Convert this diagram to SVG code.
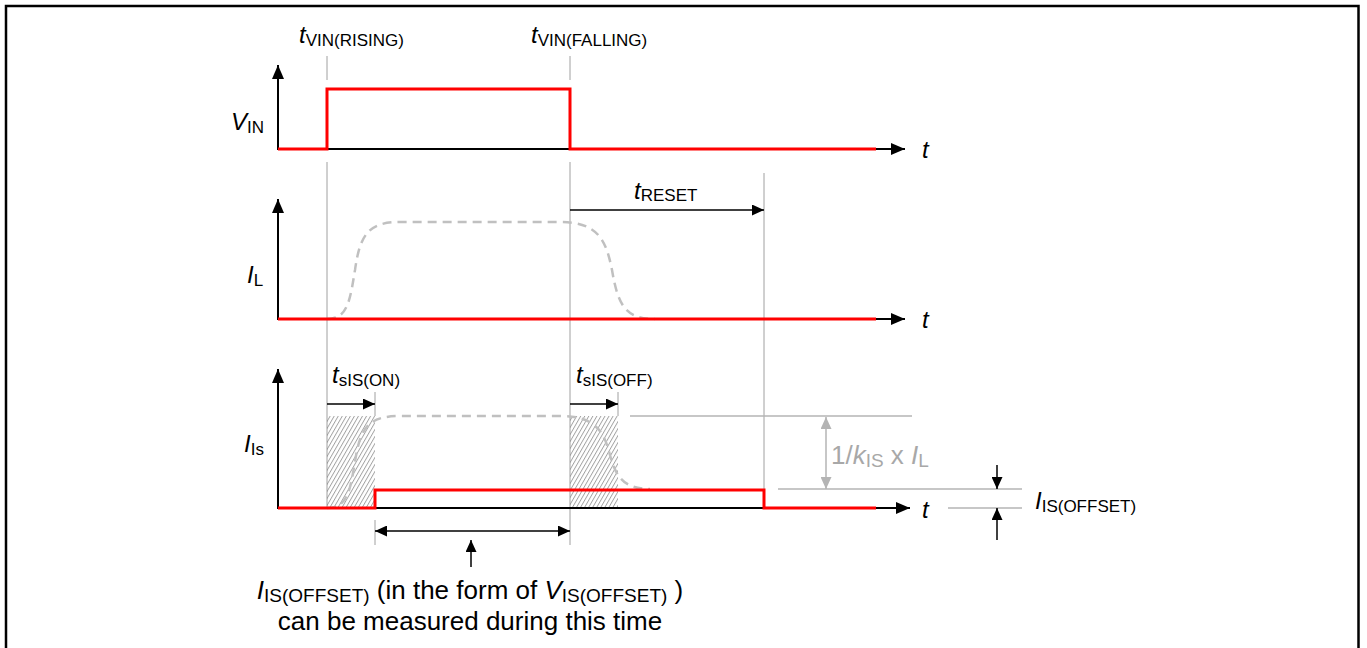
<svg xmlns="http://www.w3.org/2000/svg" width="1367" height="648" viewBox="0 0 1367 648">
<style>
text{font-family:"Liberation Sans",Arial,sans-serif;font-size:24px;fill:#000}
.it{font-style:italic}
.sub{font-size:17px}
.big{font-size:26px}
.bsub{font-size:19px}
.gtxt{fill:#a8a8a8}
.ax{stroke:#000;stroke-width:2;fill:none}
.red{stroke:#ff0000;stroke-width:3;fill:none}
.mk{stroke:#a0a0a0;stroke-width:1;fill:none}
.gl{stroke:#b4b4b4;stroke-width:1.5;fill:none}
.dash{stroke:#c0c0c0;stroke-width:2.5;fill:none;stroke-dasharray:9 6}
.dim{stroke:#000;stroke-width:1.5;fill:none}
</style>
<defs>
<marker id="axh" markerUnits="userSpaceOnUse" markerWidth="14" markerHeight="12" refX="14" refY="6" orient="auto"><path d="M0,0 L14,6 L0,12 z" fill="#000"/></marker>
<marker id="ah" markerUnits="userSpaceOnUse" markerWidth="12" markerHeight="11" refX="12" refY="5.5" orient="auto-start-reverse"><path d="M0,0 L12,5.5 L0,11 z" fill="#000"/></marker>
<marker id="gah" markerUnits="userSpaceOnUse" markerWidth="12" markerHeight="11" refX="12" refY="5.5" orient="auto-start-reverse"><path d="M0,0 L12,5.5 L0,11 z" fill="#b4b4b4"/></marker>
<pattern id="hatch" patternUnits="userSpaceOnUse" width="3.5" height="10" patternTransform="rotate(30)"><line x1="0.5" y1="0" x2="0.5" y2="10" stroke="#8a8a8a" stroke-width="0.8"/></pattern>
</defs>
<rect id="frame" x="6" y="6" width="1352.5" height="700" fill="none" stroke="#000" stroke-width="2.5"/>

<g id="markers">
<line class="mk" x1="327" y1="56" x2="327" y2="80"/>
<line class="mk" x1="570" y1="56" x2="570" y2="80"/>
<line class="mk" x1="327" y1="162" x2="327" y2="508"/>
<line class="mk" x1="570" y1="162" x2="570" y2="545"/>
<line class="mk" x1="764" y1="173" x2="764" y2="489"/>
<line class="mk" x1="375" y1="392" x2="375" y2="416"/>
<line class="mk" x1="618" y1="392" x2="618" y2="416"/>
<line class="mk" x1="375" y1="520" x2="375" y2="545"/>
</g>

<g id="hatched">
<rect x="327" y="416" width="48" height="92" fill="url(#hatch)"/>
<rect x="570" y="416" width="48" height="92" fill="url(#hatch)"/>
</g>

<g id="vin-plot">
<line class="ax" x1="278" y1="150" x2="278" y2="65" marker-end="url(#axh)"/>
<line class="ax" x1="278" y1="149" x2="905" y2="149" marker-end="url(#axh)"/>
<polyline class="red" points="278,149 327,149 327,89 570,89 570,149 876,149"/>
<text x="231" y="130"><tspan class="it">V</tspan><tspan class="sub" dy="3">IN</tspan></text>
<text x="922" y="158" class="it">t</text>
</g>

<g id="il-plot">
<path class="dash" d="M327,319 C348,319 350,300 355,270 C360,235 368,222 400,222 L560,222 C598,222 606,240 612,270 C618,305 625,319 655,319"/>
<line class="ax" x1="278" y1="320" x2="278" y2="199" marker-end="url(#axh)"/>
<line class="ax" x1="278" y1="319" x2="905" y2="319" marker-end="url(#axh)"/>
<line class="red" x1="278" y1="319" x2="876" y2="319"/>
<text x="247" y="283"><tspan class="it">I</tspan><tspan class="sub" dy="3">L</tspan></text>
<text x="922" y="328" class="it">t</text>
</g>

<g id="is-plot">
<path class="dash" d="M327,508 C348,508 350,490 355,462 C360,428 368,416 400,416 L560,416 C596,416 604,432 610,455 C616,478 625,489 650,489"/>
<line class="ax" x1="278" y1="509" x2="278" y2="369" marker-end="url(#axh)"/>
<line class="ax" x1="278" y1="508" x2="910" y2="508" marker-end="url(#axh)"/>
<polyline class="red" points="278,508 375,508 375,490 764,490 764,508 876,508"/>
<text x="244" y="452"><tspan class="it">I</tspan><tspan class="sub" dy="3">Is</tspan></text>
<text x="922" y="518" class="it">t</text>
</g>

<g id="levels">
<line class="gl" x1="630" y1="416" x2="912" y2="416"/>
<line class="gl" x1="778" y1="489" x2="1022" y2="489"/>
<line class="gl" x1="948" y1="508" x2="1022" y2="508"/>
<line class="gl" x1="826" y1="417" x2="826" y2="489" marker-start="url(#gah)" marker-end="url(#gah)"/>
<text x="831" y="464" class="big gtxt">1/<tspan class="it gtxt">k</tspan><tspan class="bsub gtxt" dy="3">IS</tspan><tspan class="gtxt" dy="-3"> x </tspan><tspan class="it gtxt">I</tspan><tspan class="bsub gtxt" dy="3">L</tspan></text>
</g>

<g id="connectors">
<line class="dim" x1="570" y1="210" x2="764" y2="210" marker-end="url(#ah)"/>
<line class="dim" x1="327" y1="404" x2="375" y2="404" marker-end="url(#ah)"/>
<line class="dim" x1="570" y1="404" x2="618" y2="404" marker-end="url(#ah)"/>
<line class="dim" x1="375" y1="531" x2="570" y2="531" marker-start="url(#ah)" marker-end="url(#ah)"/>
<line class="dim" x1="471" y1="567" x2="471" y2="540" marker-end="url(#ah)"/>
<line class="dim" x1="997" y1="465" x2="997" y2="489" marker-end="url(#ah)"/>
<line class="dim" x1="997" y1="540" x2="997" y2="508" marker-end="url(#ah)"/>
</g>

<g id="labels">
<text x="299" y="43"><tspan class="it">t</tspan><tspan class="sub" dy="3">VIN(RISING)</tspan></text>
<text x="531" y="43"><tspan class="it">t</tspan><tspan class="sub" dy="3">VIN(FALLING)</tspan></text>
<text x="634" y="199"><tspan class="it">t</tspan><tspan class="sub" dy="2">RESET</tspan></text>
<text x="332" y="383"><tspan class="it">t</tspan><tspan class="sub" dy="3">sIS(ON)</tspan></text>
<text x="576" y="383"><tspan class="it">t</tspan><tspan class="sub" dy="3">sIS(OFF)</tspan></text>
<text x="1035" y="509"><tspan class="it">I</tspan><tspan class="sub" dy="3">IS(OFFSET)</tspan></text>
</g>

<g id="note">
<text x="470" y="599" text-anchor="middle" class="big"><tspan class="it">I</tspan><tspan class="bsub" dy="3">IS(OFFSET)</tspan><tspan dy="-3"> (in the form of </tspan><tspan class="it">V</tspan><tspan class="bsub" dy="3">IS(OFFSET)</tspan><tspan dy="-3"> )</tspan></text>
<text x="470" y="630" text-anchor="middle" class="big">can be measured during this time</text>
</g>
</svg>
